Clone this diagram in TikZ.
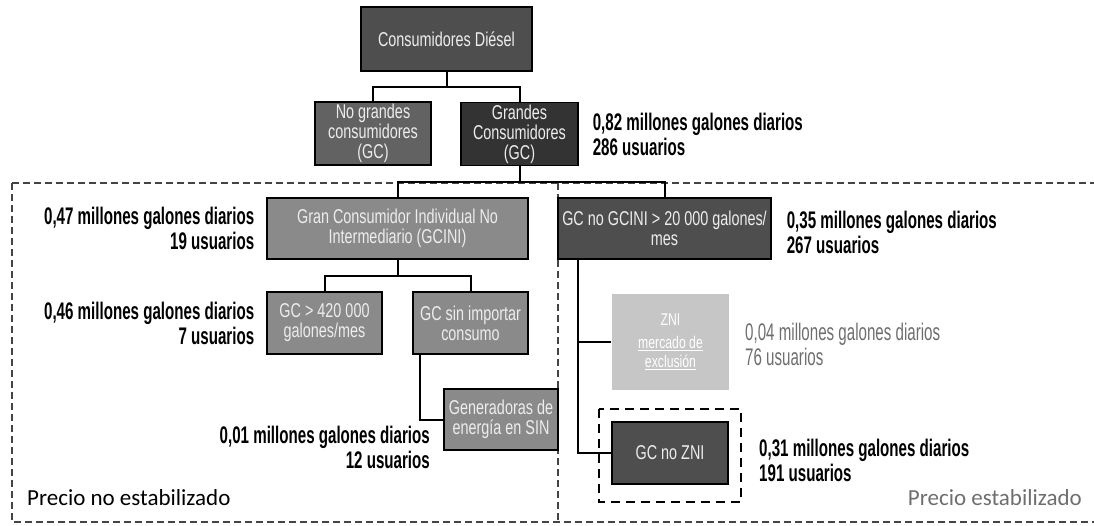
\documentclass[tikz,border=0pt]{standalone}
\usepackage{fontspec}
\usetikzlibrary{positioning}
\newfontfamily\boxfont[FakeStretch=0.72]{Liberation Sans}
\newfontfamily\valfont[FakeStretch=0.63]{Liberation Sans}
\newfontfamily\calfont{Carlito}
\definecolor{boxDark}{HTML}{4E4E4E}
\definecolor{boxDarker}{HTML}{333333}
\definecolor{boxMid}{HTML}{626262}
\definecolor{boxLight}{HTML}{8A8A8A}
\definecolor{boxFaint}{HTML}{C6C6C6}
\definecolor{textLight}{HTML}{EDEDED}
\definecolor{zoneGray}{HTML}{444444}
\definecolor{softInk}{HTML}{6E6E6E}

\begin{document}
\begin{tikzpicture}[x=1pt, y=-1pt, node distance=12pt and 14pt,
      box/.style={draw=black, line width=1.2pt, inner sep=2pt, align=center, text=textLight,
        font=\boxfont\fontsize{20}{20}\selectfont},
      dark/.style={box, fill=boxDark},
      darker/.style={box, fill=boxDarker},
      mid/.style={box, fill=boxMid},
      light/.style={box, fill=boxLight},
      faint/.style={box, draw=none, fill=boxFaint, text=white, font=\boxfont\fontsize{17}{19}\selectfont},
      val/.style={font=\valfont\bfseries\fontsize{24}{25}\selectfont, inner sep=0pt},
      zone/.style={draw=zoneGray, line width=2.6pt, dash pattern=on 7pt off 4pt},
      link/.style={draw=black, line width=2pt}]
    \useasboundingbox (0,0) rectangle (1094,525);
    % zones
    \coordinate (ztl) at (12,183);
    \coordinate (zmid) at (558,183);
    \coordinate (ztr) at (1094,183);
    \coordinate (zbl) at (12,522);
    \coordinate (zbm) at (558,522);
    \coordinate (zbr) at (1094,522);
    \draw[zone] (ztl) -- (ztr);
    \draw[zone] (ztl) -- (zbl) -- (zbr);
    \draw[zone] (zmid) -- (zbm);
    % boxes
    \node[dark, minimum width=171pt, minimum height=64pt] (diesel) at (446.5,39) {Consumidores Diésel};
    \node[mid, minimum width=116pt, minimum height=63pt] (nogc) at (373,133.5) {No grandes\\ consumidores\\ (GC)};
    \node[darker, minimum width=117pt, minimum height=62pt] (gc) at (519.5,134) {Grandes\\ Consumidores\\ (GC)};
    \node[light, minimum width=261pt, minimum height=61pt] (gcini) at (397.5,228.5) {Gran Consumidor Individual No\\ Intermediario (GCINI)};
    \node[dark, minimum width=213pt, minimum height=61pt] (gcno) at (664.5,228.5) {GC no GCINI > 20 000 galones/\\ mes};
    \node[light, minimum width=115pt, minimum height=62pt] (gcbig) at (324.5,323) {GC > 420 000\\ galones/mes};
    \node[light, minimum width=115pt, minimum height=62pt] (gcsin) at (470.5,323) {GC sin importar\\ consumo};
    \node[light, minimum width=114pt, minimum height=61pt] (gen) at (501,419.5) {Generadoras de\\ energía en SIN};
    \node[faint, minimum width=117pt, minimum height=96pt] (zni) at (670.5,342) {ZNI\\[4pt] \underline{mercado de}\\ \underline{exclusión}};
    \node[dark, minimum width=116pt, minimum height=62pt] (gcnozni) at (670,453) {GC no ZNI};
    \draw[black, line width=2.4pt, dash pattern=on 9pt off 6pt] (599,409) rectangle (741,502);
    % tree links
    \draw[link] (diesel.south) -- ++(0,15) coordinate (k1);
    \draw[link] (nogc.north) |- (k1) -| (gc.north);
    \draw[link] (gc.south) -- ++(0,16) coordinate (k2);
    \draw[link] (gcini.north) |- (k2) -| (gcno.north);
    \draw[link] (gcini.south) -- ++(0,16) coordinate (k3);
    \draw[link] (gcbig.north) |- (k3) -| (gcsin.north);
    \draw[link] ([xshift=8pt]gcsin.south west) |- (gen.west);
    \draw[link] ([xshift=21pt]gcno.south west) |- (zni.west);
    \draw[link] ([xshift=21pt]gcno.south west) |- (gcnozni.west);
    % figures
    \node[val, align=left, right=14pt of gc] (vgc) {0,82 millones galones diarios\\ 286 usuarios};
    \node[val, align=right, left=12pt of gcini] (vgcini) {0,47 millones galones diarios\\ 19 usuarios};
    \node[val, align=left, right=15pt of gcno, yshift=-4pt] (vgcno) {0,35 millones galones diarios\\ 267 usuarios};
    \node[val, align=right, left=12pt of gcbig] (vgcbig) {0,46 millones galones diarios\\ 7 usuarios};
    \node[val, align=right, anchor=east] (vgen) at (430,447) {0,01 millones galones diarios\\ 12 usuarios};
    \node[val, align=left, anchor=west, font=\valfont\fontsize{24}{25}\selectfont, text=softInk] (vzni) at (745,344) {0,04 millones galones diarios\\ 76 usuarios};
    \node[val, align=left, anchor=west] (vgcnozni) at (759,460) {0,31 millones galones diarios\\ 191 usuarios};
    \node[anchor=west, inner sep=0pt, font=\calfont\fontsize{23}{26}\selectfont] (pnoest) at (27,498) {Precio no estabilizado};
    \node[anchor=east, inner sep=0pt, font=\calfont\fontsize{23}{26}\selectfont, text=softInk] (pest) at (1082,498) {Precio estabilizado};
  \end{tikzpicture}
\end{document}
